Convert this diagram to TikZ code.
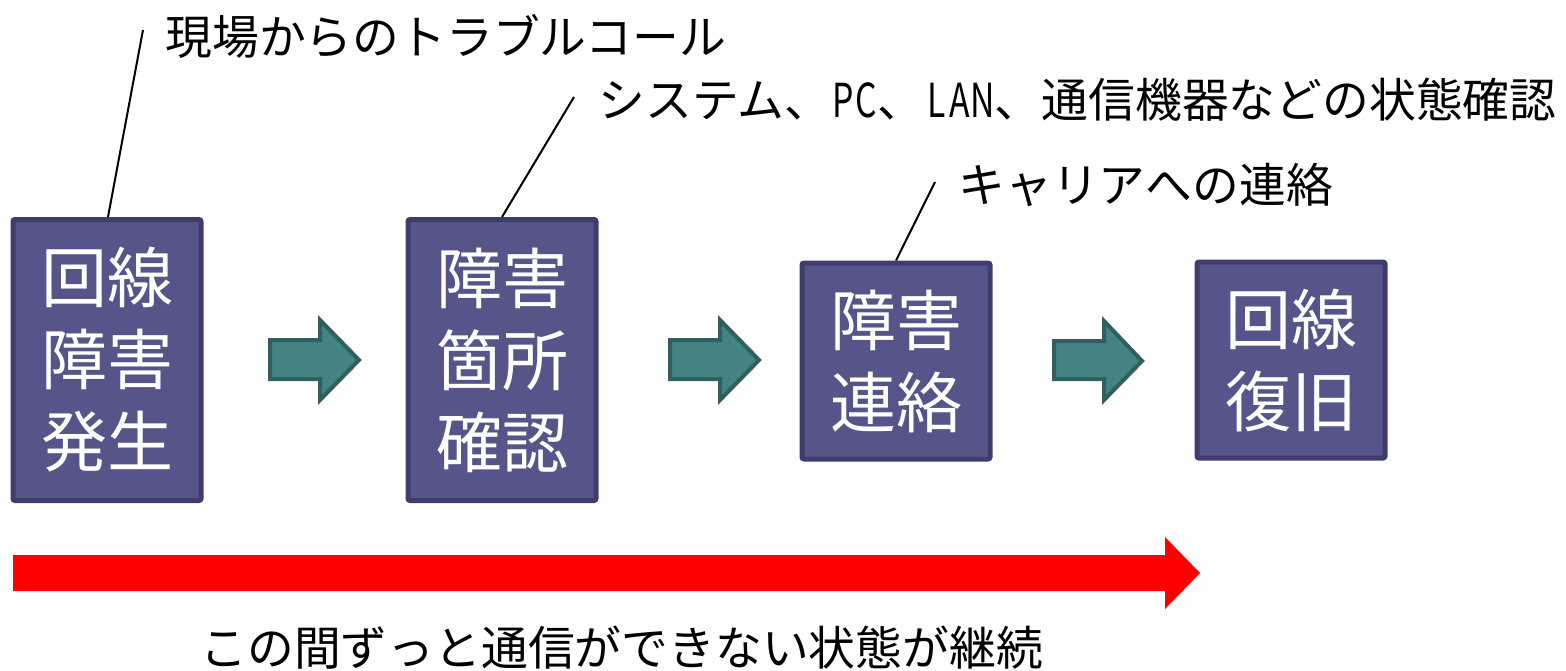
\documentclass[tikz,border=0pt]{standalone}
\usepackage{fontspec}
\usepackage{graphicx}
\setmainfont{Noto Sans CJK JP}
\definecolor{boxfill}{RGB}{85,85,138}
\definecolor{boxline}{RGB}{63,61,107}
\definecolor{tealfill}{RGB}{69,130,132}
\definecolor{tealline}{RGB}{47,95,95}
\definecolor{redarrow}{RGB}{255,0,0}
\newcommand\hwch[1]{\makebox[0.5em]{\scalebox{0.72}[1]{#1}}}
\tikzset{
  stepbox/.style={draw=boxline, fill=boxfill, line width=2.5pt, rounded corners=1pt,
    text=white, align=center, inner sep=0pt, minimum width=94pt,
    font=\fontsize{33pt}{41pt}\selectfont},
  blockarrow/.style={draw=tealline, fill=tealfill, line width=2pt, line join=miter},
  label/.style={anchor=west, inner sep=0pt, font=\fontsize{23.4pt}{28pt}\selectfont},
  leader/.style={draw=black, line width=1pt}
}
\begin{document}
\begin{tikzpicture}[x=0.5pt,y=-0.5pt]
\useasboundingbox (0,0) rectangle (1566,670);
% boxes
\node[stepbox, minimum height=140.5pt] (b1) at (107,360) {回線\\障害\\発生};
\node[stepbox, minimum height=140.5pt] (b2) at (502,360) {障害\\箇所\\確認};
\node[stepbox, minimum height=98pt] (b3) at (896,361) {障害\\連絡};
\node[stepbox, minimum height=98pt] (b4) at (1291,360) {回線\\復旧};
% block arrows
\draw[blockarrow] (270,340) -- (320,340) -- (320,320) -- (359,360) -- (320,400) -- (320,379) -- (270,379) -- cycle;
\draw[blockarrow] (670,340) -- (720,340) -- (720,320) -- (759,360) -- (720,400) -- (720,379) -- (670,379) -- cycle;
\draw[blockarrow] (1054,341) -- (1104,341) -- (1104,321) -- (1142,361) -- (1104,400) -- (1104,379) -- (1054,379) -- cycle;
% labels
\node[label] (l1) at (165,36) {現場からのトラブルコール};
\node[label] (l2) at (598,100) {システム、\hwch{P}\hwch{C}、\hwch{L}\hwch{A}\hwch{N}、通信機器などの状態確認};
\node[label] (l3) at (958,185) {キャリアへの連絡};
\coordinate (c1) at (143,30);
\coordinate (c2) at (574,97);
\coordinate (c3) at (935,182);
\draw[leader] ([xshift=0.5pt]b1.north) -- (c1);
\draw[leader] (b2.north) -- (c2);
\draw[leader] (b3.north) -- (c3);
% red arrow
\fill[redarrow] (13,555) -- (1165,555) -- (1165,537) -- (1200,573) -- (1165,609) -- (1165,591) -- (13,591) -- cycle;
\node[label] (bottom) at (200,648) {この間ずっと通信ができない状態が継続};
\end{tikzpicture}
\end{document}
